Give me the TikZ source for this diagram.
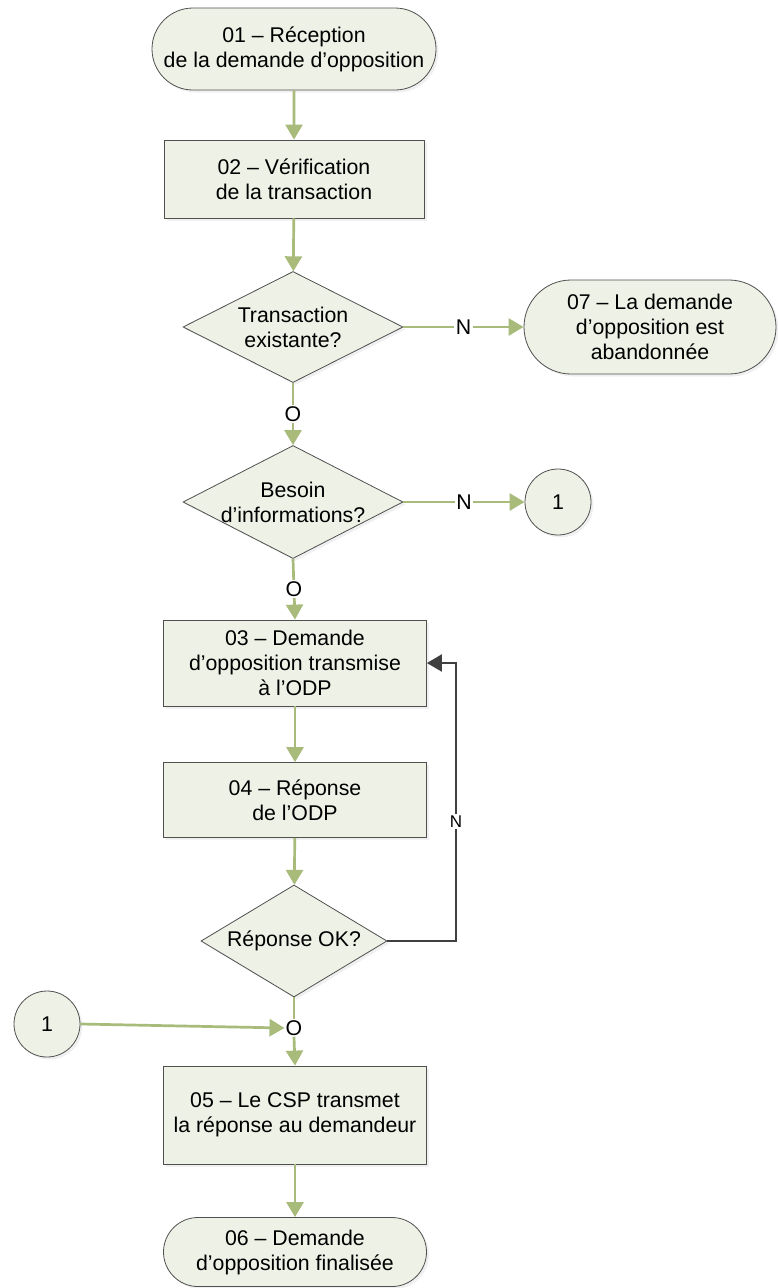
\documentclass[tikz,border=0pt]{standalone}
\usepackage{fontspec}
\setmainfont{Liberation Sans}
\usetikzlibrary{shapes.geometric,shapes.misc,arrows.meta,shadows}
\definecolor{boxfill}{RGB}{238,241,230}
\definecolor{boxline}{RGB}{80,80,80}
\definecolor{flowgreen}{RGB}{168,187,122}
\definecolor{loopgray}{RGB}{64,64,64}
\begin{document}
\begin{tikzpicture}[x=1pt,y=-1pt,
  font=\fontsize{21.3}{25}\selectfont,
  shape base/.style={draw=boxline, line width=0.8pt, fill=boxfill, align=center,
    inner sep=0pt, text=black,
    drop shadow={shadow xshift=2.5pt, shadow yshift=-2.5pt, opacity=0.12}},
  terminal/.style={shape base, rounded rectangle},
  process/.style={shape base, rectangle},
  decision/.style={shape base, diamond},
  offpage/.style={shape base, circle, minimum size=66pt},
  flow/.style={draw=flowgreen, line width=2.7pt, -{Triangle[length=15pt,width=17pt]}},
  plain flow/.style={draw=flowgreen, line width=2.7pt},
  back flow/.style={draw=loopgray, line width=2.2pt, -{Triangle[length=15pt,width=17pt]}},
  answer/.style={fill=white, inner sep=1.5pt},
  every label/.style={align=center, inner sep=0pt}
]
\useasboundingbox (0,0) rectangle (777,1288);

% main column
\node[terminal, minimum width=284pt, minimum height=82pt] (t01) at (294,49)
  {01 – Réception\\de la demande d’opposition};
\node[process, minimum width=260pt, minimum height=78pt] (b02) at (294,179)
  {02 – Vérification\\de la transaction};
\node[decision, minimum width=220pt, minimum height=111pt,
  label={center:Transaction\\existante?}] (d1) at (293,327) {};
\node[terminal, minimum width=252pt, minimum height=94pt] (t07) at (650,327)
  {07 – La demande\\d’opposition est\\abandonnée};
\node[decision, minimum width=220pt, minimum height=113pt,
  label={center:Besoin\\d’informations?}] (d2) at (293,502) {};
\node[offpage] (c1) at (558,502) {1};
\node[process, minimum width=263pt, minimum height=86pt] (b03) at (295,663)
  {03 – Demande\\d’opposition transmise\\à l’ODP};
\node[process, minimum width=263pt, minimum height=75pt] (b04) at (295,800)
  {04 – Réponse\\de l’ODP};
\node[decision, minimum width=186pt, minimum height=112pt,
  label={center:Réponse OK?}] (d3) at (294,941) {};
\node[offpage] (c2) at (47,1024) {1};
\node[inner sep=1pt] (oj) at (294,1028) {O};
\node[process, minimum width=263pt, minimum height=98pt] (b05) at (295,1115)
  {05 – Le CSP transmet\\la réponse au demandeur};
\node[terminal, minimum width=263pt, minimum height=69pt] (t06) at (295,1252)
  {06 – Demande\\d’opposition finalisée};

\coordinate (lp) at (456,0);

% connectors
\draw[flow] (t01) -- (b02);
\draw[flow] (b02) -- (d1);
\draw[flow] (d1.east) -- node[answer]{N} (t07.west);
\draw[flow] (d1.south) -- node[answer]{O} (d2.north);
\draw[flow] (d2.east) -- node[answer]{N} (c1.west);
\draw[flow] (d2.south) -- node[answer]{O} (b03.north);
\draw[flow] (b03) -- (b04);
\draw[flow] (b04) -- (d3);
\draw[back flow] (d3.east) -- (d3.east -| lp)
  -- node[answer, pos=0.43, font=\fontsize{17}{20}\selectfont]{N} (b03.east -| lp)
  -- (b03.east);
\draw[plain flow] (d3.south) -- (oj.north);
\draw[flow] (c2.east) -- (oj.west);
\draw[flow] (oj.south) -- (b05.north);
\draw[flow] (b05) -- (t06);
\end{tikzpicture}
\end{document}
